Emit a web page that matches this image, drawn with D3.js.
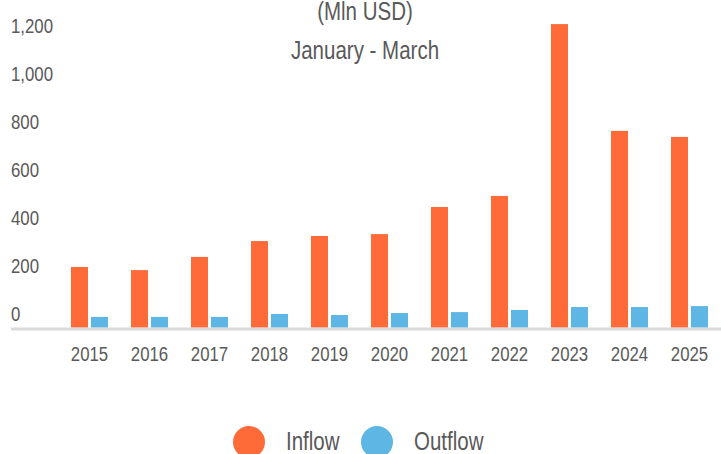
<!DOCTYPE html>
<html>
<head>
<meta charset="utf-8">
<script src="https://cdn.jsdelivr.net/npm/d3@7"></script>
<style>
  html, body { margin: 0; padding: 0; background: #fff; }
  svg { display: block; font-family: "Liberation Sans", Arial, sans-serif; }
  .tick text { fill: #595959; }
</style>
</head>
<body>
<svg width="721" height="454"></svg>
<script>
const years = ["2015", "2016", "2017", "2018", "2019", "2020", "2021", "2022", "2023", "2024", "2025"];
const inflow = [253, 240, 295, 361, 382, 390, 503, 549, 1265, 820, 795];
const outflow = [45, 45, 45, 57, 53, 61, 65, 74, 86, 86, 90];
const seriesNames = ["Inflow", "Outflow"];
const seriesColors = ["#FF6A39", "#5DB6E4"];
const yTicks = [0, 200, 400, 600, 800, 1000, 1200];
const titleLines = ["(Mln USD)", "January - March"];

const svg = d3.select("svg");
const baseY = 327.7;
// no narrow face installed, so squeeze the regular one
const narrow = "scale(0.8,1)";

const x0 = d3
  .scaleBand()
  .domain(years)
  .range([59.5, 719.5])
  .paddingInner(23 / 60)
  .paddingOuter(23 / 120);

const x1 = d3
  .scaleBand()
  .domain(seriesNames)
  .range([0, x0.bandwidth()])
  .paddingInner(0.15);

const y = d3.scaleLinear().domain([0, 1200]).range([baseY, baseY - 288]);

const color = d3.scaleOrdinal().domain(seriesNames).range(seriesColors);

const rows = years.map((yr, i) => ({ year: yr, values: [inflow[i], outflow[i]] }));

// Title
svg
  .append("g")
  .selectAll("g")
  .data(titleLines)
  .enter()
  .append("g")
  .attr("transform", (d, i) => "translate(365," + (20 + i * 39) + ")")
  .append("text")
  .attr("transform", "scale(0.82,1)")
  .attr("text-anchor", "middle")
  .style("font-size", "25px")
  .style("fill", "#595959")
  .text((d) => d);

// Y axis (labels only, sitting above their values)
const yAxis = svg
  .append("g")
  .attr("transform", "translate(11,0)")
  .call(d3.axisLeft(y).tickValues(yTicks).tickSize(0).tickFormat(d3.format(",")));
yAxis.select(".domain").remove();
yAxis
  .selectAll("text")
  .attr("x", 0)
  .attr("dy", -7)
  .attr("text-anchor", "start")
  .attr("transform", narrow)
  .style("font-size", "21px")
  .style("font-family", "inherit");

// Bars
svg
  .append("g")
  .selectAll("g")
  .data(rows)
  .enter()
  .append("g")
  .attr("transform", (d) => "translate(" + x0(d.year) + ",0)")
  .selectAll("rect")
  .data((d) => d.values.map((v, j) => ({ name: seriesNames[j], value: v })))
  .enter()
  .append("rect")
  .attr("x", (d) => x1(d.name))
  .attr("width", x1.bandwidth())
  .attr("y", (d) => y(d.value))
  .attr("height", (d) => y(0) - y(d.value))
  .attr("fill", (d) => color(d.name));

// Baseline
svg
  .append("line")
  .attr("x1", 11)
  .attr("x2", 721)
  .attr("y1", y(0) + 1.3)
  .attr("y2", y(0) + 1.3)
  .attr("stroke", "#D9D9D9")
  .attr("stroke-width", 3);

// X axis
const xAxis = svg
  .append("g")
  .attr("transform", "translate(0," + y(0) + ")")
  .call(d3.axisBottom(x0).tickSize(0));
xAxis.select(".domain").remove();
xAxis
  .selectAll("text")
  .attr("y", 33)
  .attr("dy", 0)
  .attr("transform", narrow)
  .style("font-size", "21px")
  .style("font-family", "inherit");

// Legend
const legendX = [249, 377];
const legend = svg
  .append("g")
  .selectAll("g")
  .data(seriesNames)
  .enter()
  .append("g")
  .attr("transform", (d, i) => "translate(" + legendX[i] + ",442)");
legend
  .append("circle")
  .attr("r", 16)
  .attr("fill", (d) => color(d));
legend
  .append("g")
  .attr("transform", "translate(37,8)")
  .append("text")
  .attr("transform", "scale(0.82,1)")
  .style("font-size", "25px")
  .style("fill", "#595959")
  .text((d) => d);
</script>
</body>
</html>
